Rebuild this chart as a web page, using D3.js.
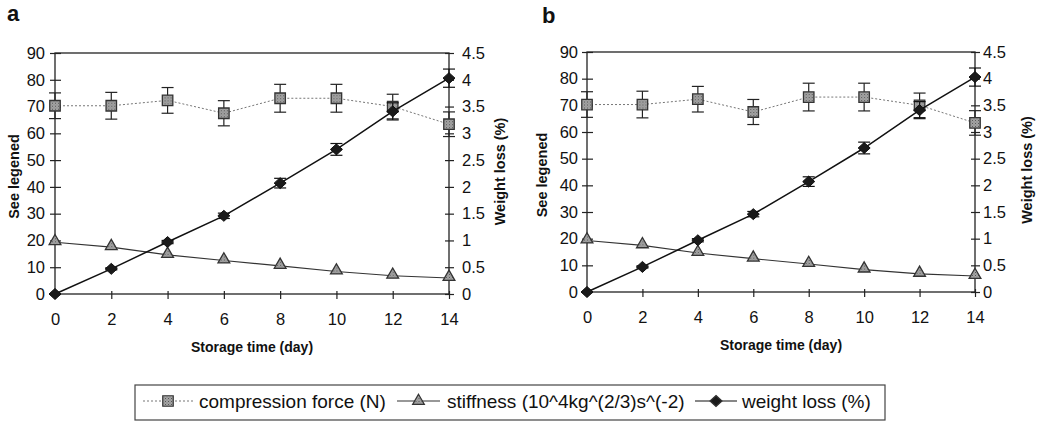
<!DOCTYPE html>
<html>
<head>
<meta charset="utf-8">
<script src="https://cdn.jsdelivr.net/npm/d3@7"></script>
<style>
  html, body { margin: 0; padding: 0; background: #fff; }
  svg { display: block; }
  text { font-family: "Liberation Sans", Arial, sans-serif; fill: #111; }
</style>
</head>
<body>
<svg id="chart" width="1044" height="422"></svg>
<script>
// ---- data ----
const days = [0, 2, 4, 6, 8, 10, 12, 14];
const compression = [70.3, 70.3, 72.3, 67.5, 73.1, 73.1, 70.0, 63.4];
const compressionErr = [4.8, 5.0, 4.8, 4.7, 5.2, 5.2, 4.6, 4.6];
const stiffness = [19.3, 17.5, 14.6, 12.5, 10.5, 8.4, 6.8, 6.0];
const weightLoss = [0, 0.47, 0.97, 1.46, 2.07, 2.70, 3.41, 4.03];
const weightLossErr = [0, 0.02, 0.03, 0.05, 0.09, 0.11, 0.16, 0.17];
const leftTicks = [0, 10, 20, 30, 40, 50, 60, 70, 80, 90];
const rightTicks = [0, 0.5, 1, 1.5, 2, 2.5, 3, 3.5, 4, 4.5];
const xTicks = [0, 2, 4, 6, 8, 10, 12, 14];
const panelLabels = ["a", "b"];
const seriesNames = ["compression force (N)", "stiffness (10^4kg^(2/3)s^(-2)", "weight loss (%)"];
const xTitle = "Storage time (day)";
const yLeftTitle = "See legened";
const yRightTitle = "Weight loss (%)";

// ---- layout ----
const layouts = [
  { left: 55, right: 449, top: 53, bottom: 294, letterX: 7, letterY: 21, ltX: 14, rtX: 500, lPad: 5, rPad: 8, bPad: 14 },
  { left: 587, right: 975, top: 52, bottom: 292, letterX: 542, letterY: 23, ltX: 542, rtX: 1027, lPad: 4, rPad: 3, bPad: 14 }
];

const svg = d3.select("#chart");
const defs = svg.append("defs");
const pat = defs.append("pattern").attr("id", "stipple").attr("patternUnits", "userSpaceOnUse")
  .attr("width", 3).attr("height", 3);
pat.append("rect").attr("width", 3).attr("height", 3).attr("fill", "#a4a4a4");
pat.append("rect").attr("x", 0).attr("y", 0).attr("width", 1).attr("height", 1).attr("fill", "#555");
pat.append("rect").attr("x", 1.5).attr("y", 1.5).attr("width", 1).attr("height", 1).attr("fill", "#777");

const sq = d3.symbol().type(d3.symbolSquare).size(110);
const tri = d3.symbol().type(d3.symbolTriangle).size(60);
const dia = "M0,-5.5L6,0L0,5.5L-6,0Z";

function drawPanel(L, idx) {
  const g = svg.append("g");
  const x = d3.scaleLinear().domain([0, 14]).range([L.left, L.right]);
  const yL = d3.scaleLinear().domain([0, 90]).range([L.bottom, L.top]);
  const yR = d3.scaleLinear().domain([0, 4.5]).range([L.bottom, L.top]);
  const font = "Liberation Sans, Arial, sans-serif";

  // frame
  g.append("rect").attr("x", L.left).attr("y", L.top).attr("width", L.right - L.left)
    .attr("height", L.bottom - L.top).attr("fill", "none").attr("stroke", "#222").attr("stroke-width", 1.3);

  // left axis
  const ax = d3.axisLeft(yL).tickValues(leftTicks).tickSizeInner(5).tickSizeOuter(0).tickPadding(L.lPad);
  const gl = g.append("g").attr("transform", `translate(${L.left},0)`).call(ax);
  gl.select(".domain").remove();
  gl.selectAll(".tick line").attr("x2", -5).attr("x1", 6).attr("stroke", "#222").attr("stroke-width", 1.2);
  gl.selectAll(".tick text").attr("font-size", 16.5).attr("font-family", font).attr("fill", "#111");

  // right axis
  const axR = d3.axisRight(yR).tickValues(rightTicks).tickFormat(d3.format("~g")).tickSizeInner(5).tickSizeOuter(0).tickPadding(L.rPad);
  const gr = g.append("g").attr("transform", `translate(${L.right},0)`).call(axR);
  gr.select(".domain").remove();
  gr.selectAll(".tick line").attr("x1", -4).attr("x2", 5).attr("stroke", "#222").attr("stroke-width", 1.2);
  gr.selectAll(".tick text").attr("font-size", 16.5).attr("font-family", font).attr("fill", "#111");

  // bottom axis
  const axB = d3.axisBottom(x).tickValues(xTicks).tickSizeInner(5).tickSizeOuter(0).tickPadding(L.bPad);
  const gb = g.append("g").attr("transform", `translate(0,${L.bottom})`).call(axB);
  gb.select(".domain").remove();
  gb.selectAll(".tick line").attr("y1", -3).attr("y2", 5).attr("stroke", "#222").attr("stroke-width", 1.2);
  gb.selectAll(".tick text").attr("font-size", 16.5).attr("font-family", font).attr("fill", "#111");

  // titles
  g.append("text").attr("x", (L.left + L.right) / 2).attr("y", L.bottom + 58).attr("text-anchor", "middle")
    .attr("font-size", 14).attr("font-weight", "bold").text(xTitle);
  g.append("text").attr("transform", `translate(${L.ltX + 5},${(L.top + L.bottom) / 2 + 3}) rotate(-90)`)
    .attr("text-anchor", "middle").attr("font-size", 14.5).attr("font-weight", "bold").text(yLeftTitle);
  g.append("text").attr("transform", `translate(${L.rtX + 5},${(L.top + L.bottom) / 2 - 2}) rotate(-90)`)
    .attr("text-anchor", "middle").attr("font-size", 14.5).attr("font-weight", "bold").text(yRightTitle);
  g.append("text").attr("x", L.letterX).attr("y", L.letterY).attr("font-family", "Liberation Serif, Times New Roman, serif")
    .attr("font-size", 22).attr("font-weight", "bold").attr("fill", "#000").text(panelLabels[idx]);

  const cap = 6;
  // compression force
  g.append("path").datum(days.map((d, i) => [d, compression[i]]))
    .attr("d", d3.line().x(d => x(d[0])).y(d => yL(d[1])))
    .attr("fill", "none").attr("stroke", "#777").attr("stroke-width", 1).attr("stroke-dasharray", "2,2");
  const ce = g.append("g");
  days.forEach((d, i) => {
    const cx = x(d), y1 = yL(compression[i] + compressionErr[i]), y2 = yL(compression[i] - compressionErr[i]);
    ce.append("line").attr("x1", cx).attr("x2", cx).attr("y1", y1).attr("y2", y2).attr("stroke", "#222").attr("stroke-width", 1.2);
    ce.append("line").attr("x1", cx - cap).attr("x2", cx + cap).attr("y1", y1).attr("y2", y1).attr("stroke", "#222").attr("stroke-width", 1.2);
    ce.append("line").attr("x1", cx - cap).attr("x2", cx + cap).attr("y1", y2).attr("y2", y2).attr("stroke", "#222").attr("stroke-width", 1.2);
  });
  g.append("g").selectAll("path").data(days).join("path")
    .attr("d", sq).attr("transform", (d, i) => `translate(${x(d)},${yL(compression[i])})`)
    .attr("fill", "url(#stipple)").attr("stroke", "#333").attr("stroke-width", 1.3);

  // stiffness
  g.append("path").datum(days.map((d, i) => [d, stiffness[i]]))
    .attr("d", d3.line().x(d => x(d[0])).y(d => yL(d[1])))
    .attr("fill", "none").attr("stroke", "#333").attr("stroke-width", 1.1);
  g.append("g").selectAll("path").data(days).join("path")
    .attr("d", tri).attr("transform", (d, i) => `translate(${x(d)},${yL(stiffness[i]) - 1})`)
    .attr("fill", "url(#stipple)").attr("stroke", "#333").attr("stroke-width", 1.3);

  // weight loss
  g.append("path").datum(days.map((d, i) => [d, weightLoss[i]]))
    .attr("d", d3.line().x(d => x(d[0])).y(d => yR(d[1])))
    .attr("fill", "none").attr("stroke", "#111").attr("stroke-width", 1.5);
  const we = g.append("g");
  days.forEach((d, i) => {
    if (weightLossErr[i] <= 0) return;
    const cx = x(d), y1 = yR(weightLoss[i] + weightLossErr[i]), y2 = yR(weightLoss[i] - weightLossErr[i]);
    we.append("line").attr("x1", cx).attr("x2", cx).attr("y1", y1).attr("y2", y2).attr("stroke", "#111").attr("stroke-width", 1.2);
    we.append("line").attr("x1", cx - cap).attr("x2", cx + cap).attr("y1", y1).attr("y2", y1).attr("stroke", "#111").attr("stroke-width", 1.2);
    we.append("line").attr("x1", cx - cap).attr("x2", cx + cap).attr("y1", y2).attr("y2", y2).attr("stroke", "#111").attr("stroke-width", 1.2);
  });
  g.append("g").selectAll("path").data(days).join("path")
    .attr("d", dia).attr("transform", (d, i) => `translate(${x(d)},${yR(weightLoss[i])})`)
    .attr("fill", "#1a1a1a").attr("stroke", "#111").attr("stroke-width", 1);
}

layouts.forEach(drawPanel);

// ---- legend ----
const lg = svg.append("g");
const box = { x1: 135, x2: 885, y1: 385, y2: 420 };
lg.append("rect").attr("x", box.x1).attr("y", box.y1).attr("width", box.x2 - box.x1).attr("height", box.y2 - box.y1)
  .attr("fill", "none").attr("stroke", "#444").attr("stroke-width", 1.2);

const legItems = [
  { x1: 143, x2: 193, tx: 199, sym: sq, fill: "url(#stipple)", dash: "2,2", lc: "#777" },
  { x1: 397, x2: 440, tx: 447, sym: tri, fill: "url(#stipple)", dash: null, lc: "#333" },
  { x1: 695, x2: 737, tx: 742, sym: dia, fill: "#1a1a1a", dash: null, lc: "#111" }
];
legItems.forEach((it, i) => {
  const ly = 401;
  lg.append("line").attr("x1", it.x1).attr("x2", it.x2).attr("y1", ly).attr("y2", ly)
    .attr("stroke", it.lc).attr("stroke-width", 1.1).attr("stroke-dasharray", it.dash);
  lg.append("path").attr("d", it.sym).attr("transform", `translate(${(it.x1 + it.x2) / 2},${ly})`)
    .attr("fill", it.fill).attr("stroke", "#333").attr("stroke-width", 1.2);
  lg.append("text").attr("x", it.tx).attr("y", ly + 7).attr("font-size", 19).text(seriesNames[i]);
});
</script>
</body>
</html>
